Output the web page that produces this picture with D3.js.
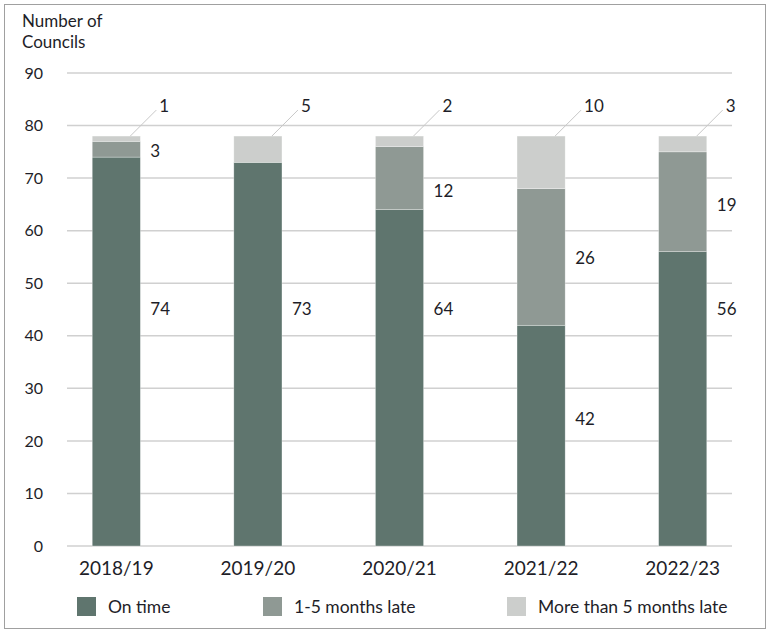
<!DOCTYPE html>
<html>
<head>
<meta charset="utf-8">
<script src="https://cdn.jsdelivr.net/npm/d3@7"></script>
<style>
  body { margin: 0; background: #fff; }
  svg text { font-family: Lato, "Noto Sans", sans-serif; fill: #1e1e28; }
</style>
</head>
<body>
<div id="chart"></div>
<script>
// Data
const years = ["2018/19", "2019/20", "2020/21", "2021/22", "2022/23"];
const onTime = [74, 73, 64, 42, 56];
const late1to5 = [3, 0, 12, 26, 19];
const lateOver5 = [1, 5, 2, 10, 3];
const seriesNames = ["On time", "1-5 months late", "More than 5 months late"];
const yTicks = [0, 10, 20, 30, 40, 50, 60, 70, 80, 90];
// where the labels sit (in councils), as placed in the original
const onTimeLabelAt = [45, 45, 45, 24.2, 45];
const lateLabelAt = [75.2, null, 67.5, 54.8, 64.9];

const colors = ["#5f756e", "#8f9994", "#cccecc"];

const W = 768, H = 632;
const svg = d3.select("#chart").append("svg")
  .attr("width", W).attr("height", H);

// outer frame
svg.append("rect")
  .attr("x", 4.5).attr("y", 4.5)
  .attr("width", 761).attr("height", 624)
  .attr("fill", "none").attr("stroke", "#a0a0a0");

const x = d3.scaleBand()
  .domain(years)
  .range([45.5, 753.5])
  .paddingInner(0.66)
  .paddingOuter(0.33);

const y = d3.scaleLinear().domain([0, 90]).range([546, 73]);

// gridlines
svg.append("g")
  .selectAll("line")
  .data(yTicks)
  .enter()
  .append("line")
  .attr("x1", 67).attr("x2", 732)
  .attr("y1", d => y(d)).attr("y2", d => y(d))
  .attr("stroke", "#d0d0d0")
  .attr("stroke-width", 1.5);

// y axis labels
const yAxis = svg.append("g")
  .attr("transform", "translate(43,0)")
  .call(d3.axisLeft(y).tickValues(yTicks).tickSize(0).tickPadding(0));
yAxis.select(".domain").remove();
yAxis.selectAll("text")
  .style("font-size", "16px")
  .style("font-family", "Lato, sans-serif")
  .attr("fill", "#1e1e28");

// y axis title
svg.append("text")
  .attr("x", 22).attr("y", 27)
  .style("font-size", "17px")
  .text("Number of");
svg.append("text")
  .attr("x", 22).attr("y", 48)
  .style("font-size", "17px")
  .text("Councils");

// stacked bars
const rows = years.map((yr, i) => ({
  year: yr,
  values: [onTime[i], late1to5[i], lateOver5[i]]
}));
const stack = d3.stack().keys([0, 1, 2]).value((d, k) => d.values[k]);
const stacked = stack(rows);

svg.append("g")
  .selectAll("g")
  .data(stacked)
  .enter()
  .append("g")
  .attr("fill", (d, i) => colors[i])
  .selectAll("rect")
  .data(d => d)
  .enter()
  .append("rect")
  .attr("x", d => x(d.data.year))
  .attr("width", x.bandwidth())
  .attr("y", d => y(d[1]))
  .attr("height", d => y(d[0]) - y(d[1]))
  .attr("stroke", d => (d[1] - d[0]) > 0 ? "rgba(255,255,255,0.5)" : "none")
  .attr("stroke-width", 0.6);

// x axis labels
const xAxis = svg.append("g")
  .attr("transform", "translate(0,561)")
  .call(d3.axisBottom(x).tickSize(0).tickPadding(0));
xAxis.select(".domain").remove();
xAxis.selectAll("text")
  .attr("dy", "0.71em")
  .style("font-size", "19px")
  .style("font-family", "Lato, sans-serif")
  .attr("fill", "#1e1e28");

// value labels: on time
svg.append("g")
  .selectAll("text")
  .data(rows)
  .enter()
  .append("text")
  .attr("x", d => x(d.year) + x.bandwidth() + 10)
  .attr("y", (d, i) => y(onTimeLabelAt[i]))
  .attr("dy", "0.35em")
  .style("font-size", "17px")
  .text(d => d.values[0]);

// value labels: 1-5 months late (only where present)
svg.append("g")
  .selectAll("text")
  .data(rows.map((d, i) => ({ ...d, at: lateLabelAt[i] })).filter(d => d.values[1] > 0))
  .enter()
  .append("text")
  .attr("x", d => x(d.year) + x.bandwidth() + 10)
  .attr("y", d => y(d.at))
  .attr("dy", "0.35em")
  .style("font-size", "17px")
  .text(d => d.values[1]);

// value labels: more than 5 months late, with leader lines
const topLabels = svg.append("g")
  .selectAll("g")
  .data(rows)
  .enter()
  .append("g");

topLabels.append("line")
  .attr("x1", d => x(d.year) + x.bandwidth() / 2 + 14)
  .attr("y1", d => y(d3.sum(d.values)))
  .attr("x2", d => x(d.year) + x.bandwidth() / 2 + 40)
  .attr("y2", d => y(d3.sum(d.values)) - 26)
  .attr("stroke", "#c8c8c8")
  .attr("stroke-width", 1);

topLabels.append("text")
  .attr("x", d => x(d.year) + x.bandwidth() / 2 + 43)
  .attr("y", d => y(d3.sum(d.values)) - 30)
  .attr("dy", "0.35em")
  .style("font-size", "17px")
  .text(d => d.values[2]);

// legend
const legendX = [77, 263, 507];
const legend = svg.append("g")
  .selectAll("g")
  .data(seriesNames)
  .enter()
  .append("g")
  .attr("transform", (d, i) => `translate(${legendX[i]},597)`);

legend.append("rect")
  .attr("width", 19).attr("height", 19)
  .attr("fill", (d, i) => colors[i]);

legend.append("text")
  .attr("x", 31).attr("y", 10)
  .attr("dy", "0.35em")
  .style("font-size", "17.5px")
  .text(d => d);
</script>
</body>
</html>
